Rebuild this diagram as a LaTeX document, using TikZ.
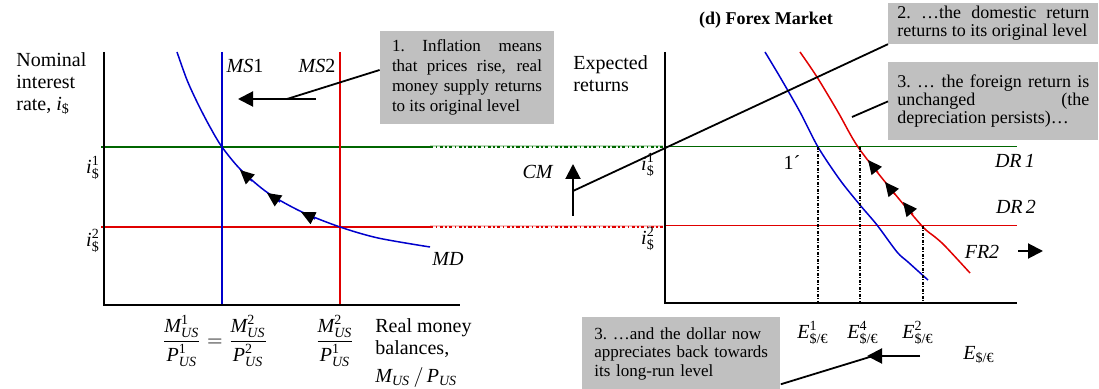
\documentclass[tikz,border=0pt]{standalone}
\usepackage{amsmath}
\usepackage{fontspec}
\setmainfont{Liberation Serif}
\usetikzlibrary{arrows.meta}
\definecolor{ink}{HTML}{000000}
\definecolor{mdblue}{HTML}{0000CC}
\definecolor{msred}{HTML}{E00000}
\definecolor{msredSoft}{HTML}{F8C4C4}
\definecolor{rgreen}{HTML}{006600}
\definecolor{rgreenSoft}{HTML}{BCDDBC}
\definecolor{note}{HTML}{C0C0C0}
\newcommand{\vit}[1]{\text{\itshape #1}}
\newcommand{\vrm}[1]{\text{#1}}
\newcommand{\irate}[1]{$\vit{i}^{\vrm{#1}}_{\vrm{\$}}$}
\newcommand{\erate}[1]{$\vit{E}^{\vrm{#1}}_{\vrm{\$/€}}$}
\tikzset{
  axis/.style={line width=1.2pt,draw=ink},
  ratelevel/.style={line width=1pt},
  fine/.style={line width=0.5pt},
  mdcurve/.style={line width=0.75pt},
  softlink/.style={line width=1.3pt},
  link/.style={line width=1pt,dash pattern=on 1.6pt off 1.2pt on 0.8pt off 1.2pt},
  guide/.style={line width=0.9pt,draw=ink,dash pattern=on 1.4pt off 0.8pt on 0.5pt off 0.8pt},
  leader/.style={line width=0.9pt,draw=ink},
  bigarrow/.style={-{Triangle[length=7.5pt,width=7.5pt]},line width=1pt,draw=ink},
  notebox/.style={fill=note,inner xsep=6pt,inner ysep=3pt},
  lbl/.style={font=\fontsize{10}{11}\selectfont,inner sep=0pt}
}
\begin{document}
\begin{tikzpicture}[x=0.5pt,y=-0.5pt,
    tipmark/.style={-{Triangle[length=7pt,width=6.5pt,color=ink,fill=ink]}}]
  \useasboundingbox (0,0) rectangle (1099,389);

  % interest levels, left panel and links
  \draw[ratelevel,draw=rgreen] (101,147) -- (430,147);
  \draw[ratelevel,draw=msred] (101,227) -- (430,227);
  \draw[softlink,draw=rgreenSoft] (430,146) -- (663,146);
  \draw[link,draw=rgreen] (430,147) -- (663,147);
  \draw[softlink,draw=msredSoft] (430,226) -- (663,226);
  \draw[link,draw=msred] (430,227) -- (663,227);
  \draw[fine,draw=rgreen] (665,147) -- (1017,147);
  \draw[fine,draw=msred] (665,226) -- (1017,226);

  % money supply
  \draw[ratelevel,draw=mdblue] (222,52) -- (222,305);
  \draw[ratelevel,draw=msred] (340,52) -- (340,305);

  % money demand
  \draw[mdcurve,draw=mdblue] plot[smooth] coordinates {(177,52) (187,80) (198,104) (210,127) (222,147) (241,170) (268,193) (302,212) (340,227) (378,238) (430,247)};
  \foreach \x/\y/\dx/\dy in {240/170/12/11,267/193/13/9,301/212/14/7}
    \draw[tipmark,mdcurve,draw=mdblue] (\x+\dx,\y+\dy) -- (\x,\y);

  % forex returns
  \draw[mdcurve,draw=mdblue] plot[smooth] coordinates {(765,52) (780,77) (800,112) (818,147) (840,180) (860,205) (877,225) (897,252) (908,262) (928,280)};
  \draw[mdcurve,draw=msred] plot[smooth] coordinates {(800,52) (817,77) (838,112) (858,147) (890,188) (922,226) (935,237) (945,246) (970,273)};
  \foreach \x/\y/\dx/\dy in {868/160/10/12.5,885/182/10/12.5,903/202/10/12.5}
    \draw[tipmark,mdcurve,draw=msred] (\x+\dx,\y+\dy) -- (\x,\y);

  \draw[guide] (818,147) -- (818,303);
  \draw[guide] (860,147) -- (860,303);
  \draw[guide] (923,226) -- (923,303);

  % axes
  \draw[axis] (104,52) -- (104,305) -- (460,305);
  \draw[axis] (665,52) -- (665,303) -- (1017,303);

  % left labels
  \node[lbl,anchor=north west,align=left] (ylabm) at (16,52) {Nominal\\ interest\\ rate, $\vit{i}_{\vrm{\$}}$};
  \node[lbl] (ileft1) at (93,168) {\irate{1}};
  \node[lbl] (ileft2) at (93,241) {\irate{2}};
  \node[lbl] (ms1) at (245,66) {\textit{MS}1};
  \node[lbl] (ms2) at (317,66) {\textit{MS}2};
  \node[lbl] (md) at (448,259) {\textit{MD}};
  \node[lbl] (realeq) at (215,341) {$\dfrac{\vit{M}^{\vrm{1}}_{\vit{US}}}{\vit{P}^{\vrm{1}}_{\vit{US}}}=\dfrac{\vit{M}^{\vrm{2}}_{\vit{US}}}{\vit{P}^{\vrm{2}}_{\vit{US}}}$};
  \node[lbl] (realtwo) at (335,341) {$\dfrac{\vit{M}^{\vrm{2}}_{\vit{US}}}{\vit{P}^{\vrm{1}}_{\vit{US}}}$};
  \node[lbl,anchor=north west,align=left] (xlabm) at (375,318) {Real money\\ balances,\\[3pt] $\vit{M}_{\vit{US}}\,/\,\vit{P}_{\vit{US}}$};

  % right labels
  \node[font=\bfseries\fontsize{9}{10}\selectfont] (title) at (766,20) {(d) Forex Market};
  \node[lbl,anchor=north west,align=left] (ylabf) at (573,55) {Expected\\ returns};
  \node[lbl] (iright1) at (648,165) {\irate{1}};
  \node[lbl] (iright2) at (648,239) {\irate{2}};
  \node[lbl] (cm) at (538,172) {\textit{CM}};
  \node[lbl] (one) at (792,163) {1´};
  \node[lbl] (dr1) at (1015,161) {\textit{DR\,1}};
  \node[lbl] (dr2) at (1016,207) {\textit{DR\,2}};
  \node[lbl] (fr2) at (982,252) {\textit{FR2}};
  \node[lbl] (eone) at (813,333) {\erate{1}};
  \node[lbl] (efour) at (863,333) {\erate{4}};
  \node[lbl] (etwo) at (918,333) {\erate{2}};
  \node[lbl] (eaxis) at (979,355) {$\vit{E}_{\vrm{\$/€}}$};

  % notes
  \node[notebox,text width=75pt,align=justify,minimum height=46.5pt,font=\fontsize{8.5}{10}\selectfont] (note1) at (467,77.5)
    {1.\ Inflation means\linebreak that prices rise, real\linebreak money supply returns\linebreak to its original level};
  \node[notebox,anchor=north west,text width=96pt,inner xsep=4.5pt,inner ysep=1.5pt,align=justify,font=\fontsize{9}{9}\selectfont] (note2) at (888,3)
    {2.\ …the domestic return\linebreak returns to its original level};
  \node[notebox,anchor=north west,text width=96pt,inner xsep=4.5pt,minimum height=39pt,align=justify,font=\fontsize{9}{9}\selectfont] (note3) at (888,62)
    {3.\ … the foreign return is\linebreak unchanged (the\linebreak depreciation persists)…};
  \node[notebox,anchor=north west,text width=87pt,inner ysep=5pt,align=left,font=\fontsize{8.5}{9.25}\selectfont] (note4) at (582,317)
    {3.\ …and the dollar now\\ appreciates back towards\\ its long-run level};

  % leaders and shift arrows
  \coordinate (msbend) at (287,99);
  \coordinate (mstail) at (316,99);
  \coordinate (mshead) at (238,99);
  \draw[leader] ([yshift=3.75pt]note1.west) -- (msbend);
  \draw[bigarrow] (mstail) -- (mshead);

  \coordinate (cmfoot) at (573,216);
  \coordinate (cmtop) at (573,164);
  \coordinate (cmjoin) at (573,191);
  \draw[bigarrow] (cmfoot) -- (cmtop);
  \draw[leader] (cmjoin) -- (note2.south west);

  \coordinate (frpoint) at (852,117);
  \draw[leader] (note3.west) -- (frpoint);

  \coordinate (frtail) at (1018,251);
  \coordinate (frhead) at (1043,251);
  \draw[bigarrow] (frtail) -- (frhead);

  \coordinate (ebend) at (873,356);
  \coordinate (etail) at (920,356);
  \coordinate (ehead) at (867,356);
  \draw[leader] ([yshift=3pt]note4.south east) -- (ebend);
  \draw[bigarrow] (etail) -- (ehead);
\end{tikzpicture}
\end{document}
